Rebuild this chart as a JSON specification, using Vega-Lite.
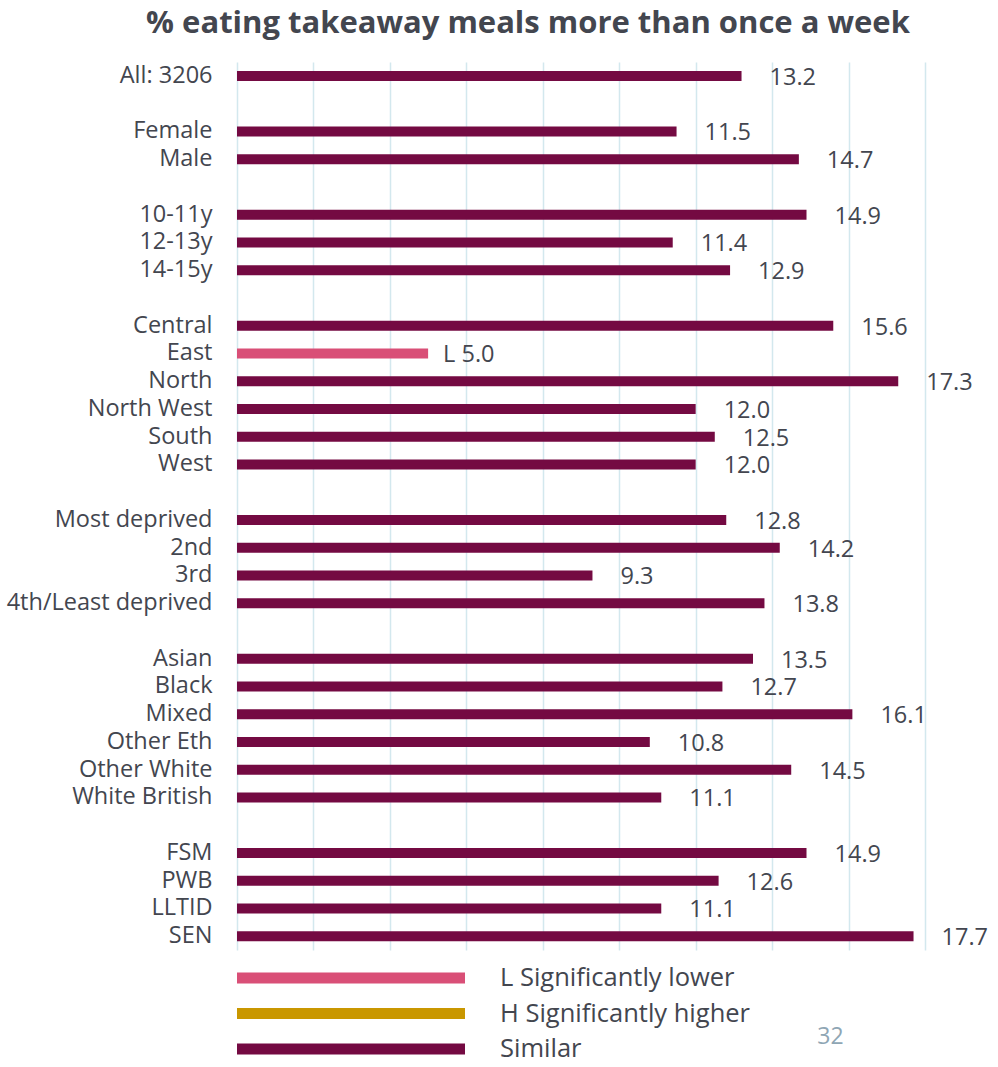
{
  "$schema": "https://vega.github.io/schema/vega-lite/v6.json",
  "autosize": {"type": "none"},
  "padding": {"left": 237, "top": 62, "right": 73, "bottom": 117},
  "width": 688,
  "height": 888,
  "background": "white",
  "title": {
    "text": "% eating takeaway meals more than once a week",
    "fontSize": 31,
    "fontWeight": "bold",
    "font": "Open Sans",
    "color": "#43464F",
    "anchor": "middle",
    "dx": -53,
    "offset": -2,
    "baseline": "alphabetic"
  },
  "data": {
    "values": [
      {"label": "All: 3206", "pct": 13.2, "status": "Similar"},
      {"label": " ", "pct": null, "status": null},
      {"label": "Female", "pct": 11.5, "status": "Similar"},
      {"label": "Male", "pct": 14.7, "status": "Similar"},
      {"label": "  ", "pct": null, "status": null},
      {"label": "10-11y", "pct": 14.9, "status": "Similar"},
      {"label": "12-13y", "pct": 11.4, "status": "Similar"},
      {"label": "14-15y", "pct": 12.9, "status": "Similar"},
      {"label": "   ", "pct": null, "status": null},
      {"label": "Central", "pct": 15.6, "status": "Similar"},
      {"label": "East", "pct": 5.0, "status": "L Significantly lower"},
      {"label": "North", "pct": 17.3, "status": "Similar"},
      {"label": "North West", "pct": 12.0, "status": "Similar"},
      {"label": "South", "pct": 12.5, "status": "Similar"},
      {"label": "West", "pct": 12.0, "status": "Similar"},
      {"label": "    ", "pct": null, "status": null},
      {"label": "Most deprived", "pct": 12.8, "status": "Similar"},
      {"label": "2nd", "pct": 14.2, "status": "Similar"},
      {"label": "3rd", "pct": 9.3, "status": "Similar"},
      {"label": "4th/Least deprived", "pct": 13.8, "status": "Similar"},
      {"label": "     ", "pct": null, "status": null},
      {"label": "Asian", "pct": 13.5, "status": "Similar"},
      {"label": "Black", "pct": 12.7, "status": "Similar"},
      {"label": "Mixed", "pct": 16.1, "status": "Similar"},
      {"label": "Other Eth", "pct": 10.8, "status": "Similar"},
      {"label": "Other White", "pct": 14.5, "status": "Similar"},
      {"label": "White British", "pct": 11.1, "status": "Similar"},
      {"label": "      ", "pct": null, "status": null},
      {"label": "FSM", "pct": 14.9, "status": "Similar"},
      {"label": "PWB", "pct": 12.6, "status": "Similar"},
      {"label": "LLTID", "pct": 11.1, "status": "Similar"},
      {"label": "SEN", "pct": 17.7, "status": "Similar"}
    ]
  },
  "encoding": {
    "y": {
      "field": "label",
      "type": "nominal",
      "sort": null,
      "scale": {
        "domain": ["All: 3206", " ", "Female", "Male", "  ", "10-11y", "12-13y", "14-15y", "   ", "Central", "East", "North", "North West", "South", "West", "    ", "Most deprived", "2nd", "3rd", "4th/Least deprived", "     ", "Asian", "Black", "Mixed", "Other Eth", "Other White", "White British", "      ", "FSM", "PWB", "LLTID", "SEN"],
        "paddingInner": 0,
        "paddingOuter": 0
      },
      "axis": {
        "title": null,
        "ticks": false,
        "domain": false,
        "labelPadding": 25,
        "labelFontSize": 23.5,
        "labelFont": "Open Sans",
        "labelColor": "#43464F",
        "labelLimit": 300
      }
    },
    "x": {
      "field": "pct",
      "type": "quantitative",
      "scale": {"domain": [0, 18], "nice": false},
      "axis": {
        "values": [0, 2, 4, 6, 8, 10, 12, 14, 16, 18],
        "labels": false,
        "ticks": false,
        "domain": false,
        "grid": true,
        "gridColor": "#D3E8EE",
        "gridWidth": 1.5,
        "title": "32",
        "titleFont": "Open Sans",
        "titleFontSize": 23,
        "titleFontWeight": "normal",
        "titleColor": "#8FA6B4",
        "titleAnchor": null,
        "titleAlign": "center",
        "titleBaseline": "middle",
        "titleX": 593,
        "titleY": 86
      }
    }
  },
  "layer": [
    {
      "mark": {"type": "bar", "size": 10},
      "encoding": {
        "color": {
          "field": "status",
          "type": "nominal",
          "scale": {
            "domain": ["L Significantly lower", "H Significantly higher", "Similar"],
            "range": ["#D94F77", "#C99700", "#740A42"]
          },
          "legend": {
            "title": null,
            "orient": "none",
            "legendX": 0,
            "legendY": 904,
            "direction": "vertical",
            "padding": 0,
            "clipHeight": 24,
            "rowPadding": 9.5,
            "symbolType": "M-1,-0.048H1V0.048H-1Z",
            "symbolSize": 51984,
            "symbolStrokeWidth": 0,
            "symbolOpacity": 1,
            "labelOffset": 35,
            "labelFontSize": 25.5,
            "labelFont": "Open Sans",
            "labelColor": "#43464F",
            "labelLimit": 400
          }
        }
      }
    },
    {
      "transform": [
        {"filter": "datum.status === 'L Significantly lower'"},
        {"calculate": "'L ' + format(datum.pct, '.1f')", "as": "txt"}
      ],
      "mark": {"type": "text", "align": "left", "baseline": "middle", "dx": 15, "dy": 2, "fontSize": 23.5, "font": "Open Sans", "color": "#43464F"},
      "encoding": {"text": {"field": "txt", "type": "nominal"}}
    },
    {
      "transform": [
        {"filter": "datum.status === 'Similar'"}
      ],
      "mark": {"type": "text", "align": "left", "baseline": "middle", "dx": 28, "dy": 2, "fontSize": 23.5, "font": "Open Sans", "color": "#43464F"},
      "encoding": {"text": {"field": "pct", "type": "quantitative", "format": ".1f"}}
    }
  ],
  "config": {
    "view": {"stroke": null}
  }
}
